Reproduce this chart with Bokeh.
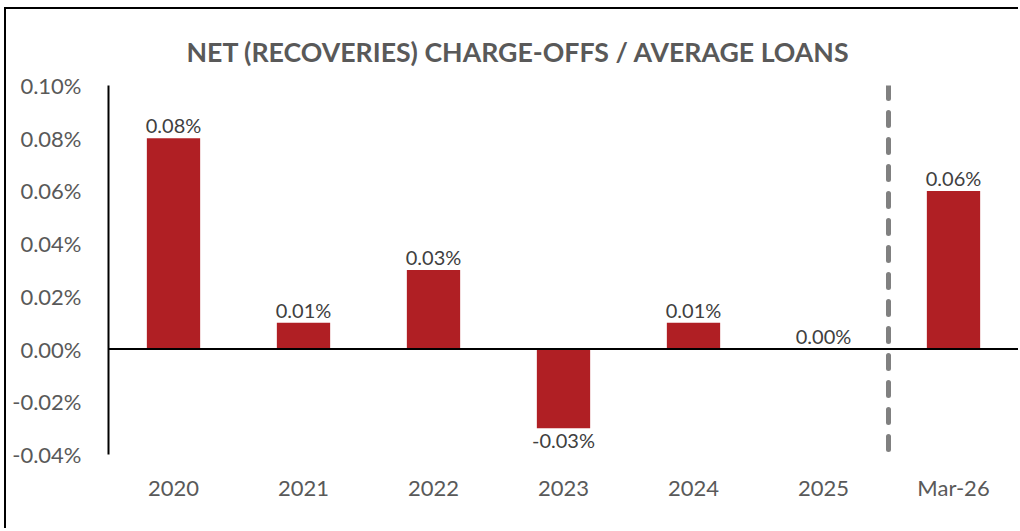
from bokeh.plotting import figure
from bokeh.models import ColumnDataSource, FactorRange, Range1d, FixedTicker, PrintfTickFormatter, Span
from bokeh.core.properties import value
from bokeh.embed import file_html
from bokeh.resources import INLINE

categories = ["2020", "2021", "2022", "2023", "2024", "2025", "Mar-26"]
values = [0.08, 0.01, 0.03, -0.03, 0.01, 0.00, 0.06]
labels = ["0.08%", "0.01%", "0.03%", "-0.03%", "0.01%", "0.00%", "0.06%"]
y_ticks = [-0.04, -0.02, 0.00, 0.02, 0.04, 0.06, 0.08, 0.10]

FONT = "Lato"
GRAY = "#595959"
RED = "#B01F24"

p = figure(x_range=FactorRange(*categories, range_padding=0), y_range=Range1d(-0.04, 0.10),
           width=1014, height=521, output_backend="svg", toolbar_location=None,
           min_border_left=102, min_border_right=2, min_border_top=76, min_border_bottom=76,
           title="NET (RECOVERIES) CHARGE-OFFS / AVERAGE LOANS")
p.styles = {"border-top": "2px solid black", "border-left": "2px solid black",
            "margin-top": "7px", "margin-left": "4px"}
p.outline_line_color = None
p.xgrid.grid_line_color = None
p.ygrid.grid_line_color = None

p.title.align = "left"
p.title.offset = 78
p.title.text_font = FONT
p.title.text_font_size = "26.7px"
p.title.text_font_style = "bold"
p.title.text_color = GRAY
p.title.standoff = 35

pos = [v >= 0 for v in values]
src = ColumnDataSource(dict(x=categories, top=values, label=labels))
p.vbar(x="x", top="top", bottom=0, width=0.41, source=src, fill_color=RED, line_color=None)

src_pos = ColumnDataSource(dict(x=[c for c, f in zip(categories, pos) if f],
                                y=[v for v, f in zip(values, pos) if f],
                                label=[l for l, f in zip(labels, pos) if f]))
src_neg = ColumnDataSource(dict(x=[c for c, f in zip(categories, pos) if not f],
                                y=[v for v, f in zip(values, pos) if not f],
                                label=[l for l, f in zip(labels, pos) if not f]))
p.text(x="x", y="y", text="label", source=src_pos, text_align="center", text_baseline="bottom",
       y_offset=-1, text_font=value(FONT), text_font_size="20px", text_color="#404040")
p.text(x="x", y="y", text="label", source=src_neg, text_align="center", text_baseline="top",
       y_offset=0, text_font=value(FONT), text_font_size="20px", text_color="#404040")

p.add_layout(Span(location=0, dimension="width", line_color="black", line_width=2))
p.add_layout(Span(location=categories.index("Mar-26"), dimension="height", line_color="#808080",
                  line_width=5, line_dash="13 14", line_cap="round"))

p.yaxis.ticker = FixedTicker(ticks=y_ticks)
p.yaxis.formatter = PrintfTickFormatter(format="%.2f%%")
p.yaxis.major_tick_line_color = None
p.yaxis.minor_tick_line_color = None
p.yaxis.axis_line_color = "black"
p.yaxis.axis_line_width = 2
p.yaxis.major_label_standoff = 21
p.yaxis.major_label_text_font = FONT
p.yaxis.major_label_text_font_size = "22px"
p.yaxis.major_label_text_color = GRAY

p.xaxis.axis_line_color = None
p.xaxis.major_tick_line_color = None
p.xaxis.minor_tick_line_color = None
p.xaxis.major_label_standoff = 13
p.xaxis.major_label_text_font = FONT
p.xaxis.major_label_text_font_size = "22px"
p.xaxis.major_label_text_color = GRAY

open("out.html", "w").write(file_html(p, INLINE))
